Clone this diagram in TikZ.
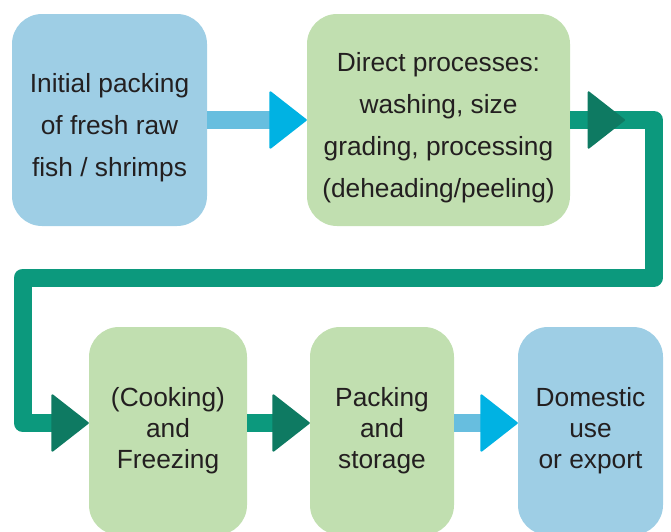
\documentclass[tikz,border=0pt]{standalone}
\usepackage{fontspec}
\setmainfont{Liberation Sans}
\usetikzlibrary{arrows.meta}

\definecolor{boxblue}{RGB}{158,206,229}
\definecolor{boxgreen}{RGB}{193,223,176}
\definecolor{linkblue}{RGB}{103,190,223}
\definecolor{tipblue}{RGB}{0,178,227}
\definecolor{linkteal}{RGB}{12,153,125}
\definecolor{tipteal}{RGB}{14,122,98}
\definecolor{ink}{RGB}{35,31,32}

% extra headroom on a first line, so the text block sits a little low in its box
\newcommand{\lowstart}{\rule{0pt}{34pt}}

\begin{document}
\begin{tikzpicture}[x=1pt,y=-1pt,
  stage/.style={rectangle, rounded corners=30pt, inner sep=0pt, align=center, text=ink},
  toprow/.style={stage, minimum height=212pt, font=\fontsize{26.3}{42}\selectfont},
  lowrow/.style={stage, minimum height=208pt, font=\fontsize{26.3}{31}\selectfont},
  bluelink/.style={draw=linkblue, line width=18pt,
    -{Triangle[length=38pt,width=59pt,line width=2pt,round,color=tipblue]}},
  teallink/.style={draw=linkteal, line width=18pt, line join=round,
    -{Triangle[length=38pt,width=59pt,line width=2pt,round,color=tipteal]}},
]
\useasboundingbox (0,0) rectangle (671,531);
\clip (0,0) rectangle (671,531);

% process stages
\node[toprow, fill=boxblue, minimum width=195pt] (raw) at (109.5,120)
  {\lowstart Initial packing\\of fresh raw\\fish / shrimps};
\node[toprow, fill=boxgreen, minimum width=263pt] (direct) at (438.5,120)
  {\lowstart Direct processes:\\washing, size\\grading, processing\\(deheading/peeling)};
\node[lowrow, fill=boxgreen, minimum width=158pt] (freeze) at (168,431)
  {(Cooking)\\and\\Freezing};
\node[lowrow, fill=boxgreen, minimum width=144pt] (store) at (382,431)
  {Packing\\and\\storage};
\node[lowrow, fill=boxblue, minimum width=145pt] (market) at (590.5,431)
  {Domestic\\use\\or export};

% routing points of the return line
\coordinate (row) at (0,423);
\coordinate (midtip) at (625,120);
\coordinate (r1) at (654,120);
\coordinate (r2) at (654,277.5);
\coordinate (l1) at (22.5,277.5);
\coordinate (l2) at (22.5,423);

% connectors
\draw[bluelink] (raw.east) -- (direct.west);
\draw[teallink] (direct.east) -- (r1) -- (r2) -- (l1) -- (l2) -- (freeze.west |- row);
\draw[teallink] (direct.east) -- (midtip);
\draw[teallink] (freeze.east |- row) -- (store.west |- row);
\draw[bluelink] (store.east |- row) -- (market.west |- row);
\end{tikzpicture}
\end{document}
